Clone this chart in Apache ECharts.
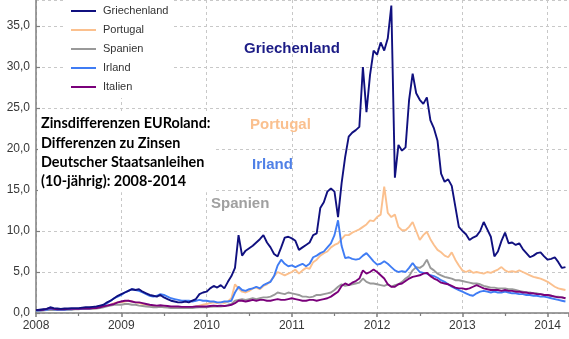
<!DOCTYPE html>
<html>
<head>
<meta charset="utf-8">
<script src="https://cdn.jsdelivr.net/npm/echarts@6/dist/echarts.min.js"></script>
<style>
html,body{margin:0;padding:0;background:#fff;}
#chart{width:569px;height:339px;}
</style>
</head>
<body>
<div id="chart"></div>
<script>
// Half-monthly samples starting January 2008 (step = 1/24 year)
const startYear = 2008;
const stepsPerYear = 24;
const seriesNames = ['Griechenland', 'Portugal', 'Spanien', 'Irland', 'Italien'];
const yearTicks = [2008, 2009, 2010, 2011, 2012, 2013, 2014];

const griechenland = [
  0.35,0.4,0.45,0.5,0.7,0.6,0.55,0.5,0.55,0.55,0.6,0.6,0.6,0.65,0.7,0.7,0.75,0.8,0.9,1.0,1.3,1.5,1.8,2.1,
  2.3,2.5,2.7,2.9,2.8,2.9,2.6,2.4,2.2,2.1,2.0,2.2,1.9,1.7,1.5,1.4,1.3,1.3,1.4,1.3,1.5,1.7,2.3,2.5,
  2.6,3.0,3.3,3.1,3.4,3.0,3.8,4.5,5.5,9.5,7.0,7.6,7.9,8.2,8.6,9.0,9.5,8.6,8.0,7.2,6.9,8.0,9.2,9.3,
  9.1,8.8,7.7,8.0,8.3,8.6,9.5,9.7,12.8,13.5,14.8,15.2,14.8,11.7,15.8,19.0,21.5,22.0,22.3,22.7,
  30.0,24.5,29.0,32.0,
  31.5,33.0,32.0,33.5,37.5,16.5,20.5,19.8,20.2,26.0,29.2,26.8,26.0,25.5,26.3,23.5,22.5,21.0,17.0,16.0,16.3,15.5,13.0,10.5,
  10.0,9.6,8.9,9.2,9.4,10.0,11.1,10.2,9.3,6.9,7.5,8.8,9.8,8.5,8.6,8.3,8.5,7.8,7.3,6.8,7.0,7.3,7.4,6.9,
  6.5,6.6,6.8,6.2,5.5,5.6
];
const portugal = [
  0.3,0.3,0.35,0.4,0.5,0.45,0.4,0.4,0.4,0.45,0.45,0.5,0.5,0.5,0.5,0.55,0.55,0.6,0.7,0.8,0.9,1.0,1.2,1.3,
  1.3,1.4,1.5,1.4,1.3,1.2,1.1,1.0,0.9,0.85,0.8,0.85,0.8,0.75,0.7,0.7,0.7,0.75,0.7,0.7,0.75,0.8,0.9,1.0,
  1.1,1.2,1.3,1.2,1.3,1.2,1.4,1.8,3.5,3.0,2.6,2.5,2.7,3.0,3.1,2.9,3.3,3.5,3.9,4.5,5.0,4.8,4.6,4.8,
  5.0,5.3,4.8,5.2,5.5,5.4,6.2,6.5,7.0,7.3,7.5,8.0,8.3,8.5,9.0,9.5,9.5,9.8,10.0,10.2,10.5,10.8,11.3,11.2,
  11.7,12.0,15.4,12.2,11.7,12.0,10.5,10.1,10.1,10.5,11.1,10.0,8.9,9.5,9.9,9.0,8.3,7.7,7.4,7.0,6.8,7.4,6.5,5.8,
  5.2,5.0,5.2,4.9,5.0,4.9,4.8,5.0,4.9,5.1,5.3,5.6,5.2,5.0,5.1,5.0,5.2,5.0,4.8,4.6,4.4,4.3,4.2,4.0,
  3.8,3.5,3.2,3.0,2.9,2.8
];
const spanien = [
  0.25,0.3,0.3,0.35,0.4,0.35,0.35,0.4,0.4,0.4,0.4,0.45,0.45,0.5,0.5,0.5,0.5,0.55,0.6,0.7,0.8,0.9,1.0,1.0,
  1.0,1.1,1.1,1.0,1.0,0.9,0.85,0.8,0.75,0.7,0.7,0.75,0.7,0.65,0.6,0.6,0.6,0.6,0.6,0.6,0.6,0.65,0.7,0.7,
  0.7,0.75,0.8,0.8,0.8,0.85,1.0,1.1,1.5,1.6,1.7,1.6,1.7,1.8,1.7,1.8,1.9,1.9,2.0,2.2,2.5,2.4,2.3,2.5,
  2.4,2.3,2.2,2.0,2.0,1.9,2.0,2.2,2.2,2.3,2.4,2.5,2.8,3.2,3.5,3.3,3.4,3.5,3.6,3.7,4.2,3.8,3.6,3.6,
  3.5,3.4,3.3,3.5,3.2,3.4,3.5,3.8,4.2,4.5,5.2,5.6,5.5,5.8,6.5,5.5,5.2,4.8,4.6,4.4,4.3,4.2,4.0,4.0,
  3.9,3.8,3.7,3.6,3.6,3.5,3.3,3.2,3.1,3.1,3.0,3.0,3.0,2.9,2.9,2.8,2.7,2.6,2.5,2.5,2.4,2.4,2.3,2.2,
  2.2,2.1,2.0,2.0,1.9,1.8
];
const irland = [
  0.3,0.3,0.35,0.4,0.5,0.45,0.4,0.4,0.4,0.45,0.45,0.5,0.5,0.5,0.55,0.55,0.6,0.65,0.8,0.9,1.2,1.5,1.8,2.0,
  2.2,2.5,2.7,2.9,2.8,2.7,2.5,2.3,2.1,2.0,2.1,2.3,2.2,2.0,1.8,1.7,1.6,1.5,1.5,1.5,1.4,1.5,1.6,1.5,
  1.5,1.4,1.4,1.3,1.3,1.4,1.4,1.5,2.5,3.2,2.8,2.7,2.9,3.0,3.2,3.0,3.4,3.6,3.8,4.5,5.8,6.5,6.0,5.7,
  5.8,5.6,5.8,6.0,5.7,6.0,6.8,7.0,7.3,7.5,8.0,8.5,9.5,11.3,8.2,6.7,6.8,6.6,6.5,6.6,7.0,7.3,6.8,6.3,
  5.9,6.0,6.3,6.0,5.6,5.2,5.0,5.1,5.0,5.5,6.1,5.5,5.0,4.9,4.8,4.6,4.5,4.3,4.0,3.8,3.5,3.2,3.0,2.8,
  2.6,2.4,2.2,2.1,2.4,2.6,2.7,2.6,2.5,2.6,2.5,2.5,2.6,2.5,2.4,2.4,2.3,2.3,2.2,2.2,2.1,2.1,2.0,2.0,
  1.9,1.8,1.7,1.6,1.5,1.4
];
const italien = [
  0.35,0.35,0.4,0.5,0.6,0.5,0.45,0.45,0.45,0.5,0.5,0.5,0.5,0.55,0.55,0.55,0.6,0.6,0.7,0.8,0.9,1.0,1.1,1.3,
  1.4,1.5,1.5,1.4,1.3,1.3,1.2,1.1,1.0,0.95,0.9,0.95,0.9,0.85,0.8,0.8,0.8,0.75,0.75,0.75,0.75,0.8,0.8,0.8,
  0.8,0.85,0.9,0.85,0.9,0.85,0.9,1.0,1.2,1.5,1.5,1.4,1.5,1.6,1.5,1.6,1.6,1.5,1.5,1.6,1.7,1.6,1.6,1.7,
  1.8,1.7,1.6,1.5,1.5,1.6,1.6,1.5,1.6,1.7,1.8,2.0,2.3,2.6,3.3,3.6,3.4,3.7,3.9,4.2,5.2,4.8,5.0,5.3,
  5.0,4.6,4.2,3.5,3.2,3.2,3.5,3.6,3.9,4.2,4.4,4.5,4.6,4.8,4.9,4.5,4.2,4.0,3.7,3.6,3.5,3.3,3.1,3.0,
  3.0,2.9,3.0,3.2,3.4,3.2,3.0,2.9,2.8,2.8,2.8,2.7,2.8,2.7,2.7,2.6,2.6,2.5,2.5,2.4,2.4,2.3,2.3,2.2,
  2.2,2.1,2.0,1.9,1.9,1.8
];

const allValues = [griechenland, portugal, spanien, irland, italien];
const colors = ['#10107f', '#fbc08e', '#999999', '#3f7cf4', '#7a007a'];

function toPoints(arr) {
  return arr.map((v, i) => [startYear + i / stepsPerYear, v]);
}

const chart = echarts.init(document.getElementById('chart'), null, {renderer: 'canvas'});

const series = seriesNames.map((name, k) => ({
  name: name,
  type: 'line',
  data: toPoints(allValues[k]),
  showSymbol: false,
  symbol: 'none',
  smooth: false,
  lineStyle: {width: 1.9, color: colors[k]},
  itemStyle: {color: colors[k]},
  z: k === 0 ? 5 : 3,
  animation: false
}));

const textFont = 'Lato, "Liberation Sans", sans-serif';
const arial = '"Liberation Sans", Arial, sans-serif';

const option = {
  animation: false,
  backgroundColor: '#ffffff',
  color: colors,
  grid: {left: 36, right: 0, top: 0, bottom: 26, containLabel: false},
  xAxis: {
    type: 'value',
    min: 2008,
    max: 2014.25,
    interval: 1,
    axisLine: {show: true, lineStyle: {color: '#7f7f7f', width: 1.5}},
    axisTick: {show: true, length: 4, lineStyle: {color: '#7f7f7f', width: 1.5}},
    minorTick: {show: true, splitNumber: 2, length: 3, lineStyle: {color: '#7f7f7f', width: 1.2}},
    axisLabel: {
      showMaxLabel: false,
      color: '#383838',
      fontFamily: arial,
      fontSize: 12,
      margin: 7,
      formatter: v => String(Math.round(v))
    },
    splitLine: {show: true, lineStyle: {color: '#c8c8c8', type: [3, 3], width: 1}}
  },
  yAxis: {
    type: 'value',
    min: 0,
    max: 38.17,
    interval: 5,
    axisLine: {show: true, lineStyle: {color: '#7f7f7f', width: 1.5}},
    axisTick: {show: true, inside: true, length: 4, lineStyle: {color: '#7f7f7f', width: 1.2}},
    axisLabel: {
      showMaxLabel: false,
      color: '#383838',
      fontFamily: arial,
      fontSize: 12,
      margin: 6,
      formatter: v => v.toFixed(1).replace('.', ',')
    },
    splitLine: {show: true, lineStyle: {color: '#c8c8c8', type: [3, 3], width: 1}}
  },
  legend: {
    data: seriesNames,
    orient: 'vertical',
    left: 66,
    top: 0,
    padding: [4, 5, 4, 5],
    backgroundColor: '#ffffff',
    icon: 'rect',
    itemWidth: 25,
    itemHeight: 2,
    itemGap: 5,
    textStyle: {fontFamily: arial, fontSize: 11, color: '#333', lineHeight: 14, height: 14, padding: [0, 0, 0, 2]}
  },
  graphic: [
    {
      type: 'text', left: 244, top: 41, z: 50,
      style: {text: 'Griechenland', fill: '#1c1c86', font: 'bold 15px ' + arial}
    },
    {
      type: 'text', left: 250, top: 117, z: 50,
      style: {text: 'Portugal', fill: '#fac08f', font: 'bold 15px ' + arial}
    },
    {
      type: 'text', left: 252, top: 157, z: 50,
      style: {text: 'Irland', fill: '#4f80e6', font: 'bold 15px ' + arial}
    },
    {
      type: 'text', left: 211, top: 196, z: 50,
      style: {text: 'Spanien', fill: '#a0a0a0', font: 'bold 15px ' + arial}
    },
    {
      type: 'text', left: 38, top: 113, z: 50,
      style: {
        text: 'Zinsdifferenzen EURoland:\nDifferenzen zu Zinsen\nDeutscher Staatsanleihen\n(10-jährig): 2008-2014',
        fill: '#000',
        font: 'bold 14.4px ' + textFont,
        lineHeight: 19.3,
        backgroundColor: '#ffffff',
        padding: [1, 3, 1, 3]
      }
    }
  ],
  series: series
};

chart.setOption(option);
</script>
</body>
</html>
